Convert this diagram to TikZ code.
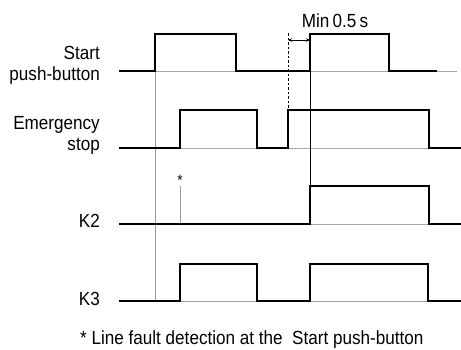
\documentclass[tikz,border=0pt]{standalone}
\usepackage{fontspec}
\setmainfont{Liberation Sans}[FakeStretch=0.9]
\usetikzlibrary{arrows.meta}
\begin{document}
\begin{tikzpicture}[x=1pt,y=-1pt,
  lbl/.style={inner sep=0pt, font=\fontsize{19}{22}\selectfont},
  wave/.style={line width=2.6pt, line join=miter, line cap=butt},
  baseln/.style={line width=0.8pt, gray!70},
  guide/.style={line width=0.8pt},
  dimarrow/.style={line width=0.7pt, {Stealth[length=4pt,width=3.5pt]}-{Stealth[length=4pt,width=3.5pt]}},
]
\useasboundingbox (0,0) rectangle (461,349);
% labels
\node[lbl, anchor=base east] (l1a) at (100,59) {Start};
\node[lbl, anchor=base east] (l1b) at (100,80) {push-button};
\node[lbl, anchor=base east] (l2a) at (100,129) {Emergency};
\node[lbl, anchor=base east] (l2b) at (100,150) {stop};
\node[lbl, anchor=base east] (l3) at (100,227) {K2};
\node[lbl, anchor=base east] (l4) at (100,305) {K3};
\node[lbl, anchor=base] (minlbl) at (335,27) {Min\,0.5\,s};
\node[lbl, anchor=base west] (note) at (80,344) {* Line fault detection at the \ Start push-button};
\node[lbl, font=\fontsize{15}{16}\selectfont] (ast) at (180,180) {*};
% baselines
\draw[baseln] (119,71) -- (457,71);
\draw[baseln] (119,148) -- (461,148);
\draw[baseln] (119,224) -- (461,224);
\draw[baseln] (119,301) -- (461,301);
% guide lines
\draw[guide, gray!80] (155,34) -- (155,301);
\draw[guide] (310,34) -- (310,224);
\draw[guide, dash pattern=on 2.5pt off 2pt] (288,33) -- (288,110);
\draw[guide, gray!80] (180,186) -- (180,224);
\coordinate (dl) at (288,40);
\coordinate (dr) at (310,40);
\draw[dimarrow] (dl) -- (dr);
% waveforms
\draw[wave] (119,71) -- (155,71) -- (155,34) -- (236,34) -- (236,71) -- (310,71) -- (310,34) -- (389,34) -- (389,71) -- (437,71);
\draw[wave] (119,148) -- (180,148) -- (180,110) -- (257,110) -- (257,148) -- (288,148) -- (288,110) -- (429,110) -- (429,148) -- (461,148);
\draw[wave] (119,224) -- (310,224) -- (310,186) -- (429,186) -- (429,224) -- (461,224);
\draw[wave] (119,301) -- (180,301) -- (180,264) -- (257,264) -- (257,301) -- (310,301) -- (310,264) -- (428,264) -- (428,301) -- (461,301);
\end{tikzpicture}
\end{document}
